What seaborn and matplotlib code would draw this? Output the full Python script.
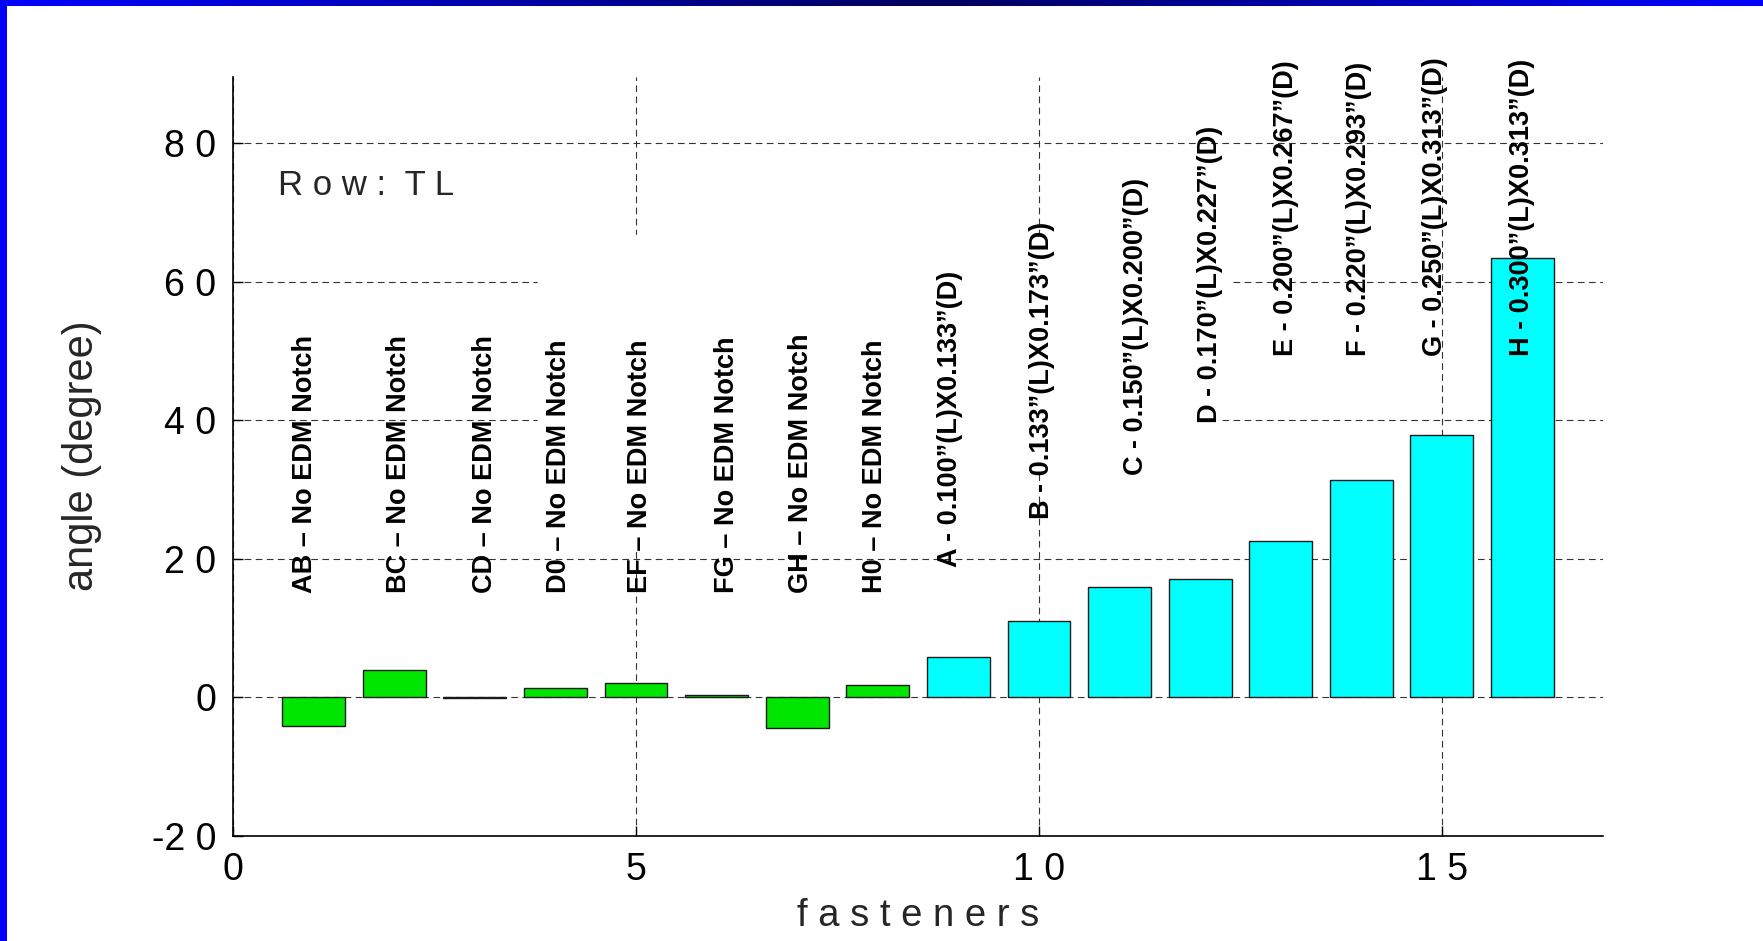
import numpy as np
import pandas as pd
import matplotlib
matplotlib.use("Agg")
import matplotlib.pyplot as plt
from matplotlib.colors import LinearSegmentedColormap
from matplotlib.patches import Polygon, Rectangle
from matplotlib.ticker import FixedLocator, FuncFormatter
import seaborn as sns

# ---- data -------------------------------------------------------------
fasteners = list(range(1, 17))
angles = [-4.15, 3.9, -0.15, 1.35, 2.0, 0.35, -4.45, 1.7,
          5.85, 11.05, 15.9, 17.1, 22.6, 31.4, 37.85, 63.4]
notch = ["none"] * 8 + ["edm"] * 8
notch_labels = [
    "AB \u2013 No EDM Notch", "BC \u2013 No EDM Notch", "CD \u2013 No EDM Notch",
    "D0 \u2013 No EDM Notch", "EF \u2013 No EDM Notch", "FG \u2013 No EDM Notch",
    "GH \u2013 No EDM Notch", "H0 \u2013 No EDM Notch",
    "A - 0.100\u201d(L)X0.133\u201d(D)", "B - 0.133\u201d(L)X0.173\u201d(D)",
    "C - 0.150\u201d(L)X0.200\u201d(D)", "D - 0.170\u201d(L)X0.227\u201d(D)",
    "E - 0.200\u201d(L)X0.267\u201d(D)", "F - 0.220\u201d(L)X0.293\u201d(D)",
    "G - 0.250\u201d(L)X0.313\u201d(D)", "H - 0.300\u201d(L)X0.313\u201d(D)",
]
row_name = "TL"
x_ticks = [0, 5, 10, 15]
y_ticks = [-20, 0, 20, 40, 60, 80]

# ---- layout -----------------------------------------------------------
label_x = [0.89, 2.06, 3.13, 4.05, 5.05, 6.13, 7.05, 7.97,
           8.90, 10.04, 11.21, 12.12, 13.07, 13.97, 14.91, 15.99]
label_base = [15.0] * 8 + [18.8, 25.8, 32.1, 39.6, 49.3, 49.3, 49.3, 49.3]
blank_area = [(3.78, 66.8), (12.44, 66.8), (12.28, 40.0),
              (10.0, 32.4), (5.0, 21.3), (3.78, 21.0)]
palette = {"none": "#00e600", "edm": "#00ffff"}

sns.set_style("ticks")
plt.rcParams["font.family"] = ["Liberation Sans", "DejaVu Sans"]


def spaced(text):
    """Letter-spaced rendering used for the axis annotations."""
    return "  ".join(" ".join(word) for word in text.split())


def spaced_number(v, pos=None):
    s = f"{v:g}"
    sign = "-" if s.startswith("-") else ""
    return sign + " ".join(s.lstrip("-"))


fig = plt.figure(figsize=(17.63, 9.41), dpi=100)
fig.patch.set_facecolor("white")

# window frame: blue strip on the left and a gradient caption band on top
fig.patches.append(Rectangle((0, 0), 6.5 / 1763, 1, transform=fig.transFigure,
                             facecolor="#0000ff", edgecolor="none", zorder=5))
band = fig.add_axes([0, 1 - 6 / 941, 1, 6 / 941])
band_cmap = LinearSegmentedColormap.from_list(
    "band", [(0, "#0000ff"), (0.53, "#00005e"), (1, "#0000ff")])
band.imshow(np.linspace(0, 1, 512)[None, :], aspect="auto", cmap=band_cmap,
            extent=(0, 1, 0, 1))
band.set_axis_off()

ax = fig.add_axes([0.1322, 0.1121, 0.7771, 0.8064])
df = pd.DataFrame({"fastener": fasteners, "angle": angles, "notch": notch})
sns.barplot(data=df, x="fastener", y="angle", hue="notch", palette=palette,
            native_scale=True, width=0.78, dodge=False, legend=False,
            saturation=1, edgecolor="#1a1a1a", linewidth=1.0, ax=ax, zorder=2)

ax.set_xlim(0, 17)
ax.set_ylim(-20, 89.65)
ax.xaxis.set_major_locator(FixedLocator(x_ticks))
ax.yaxis.set_major_locator(FixedLocator(y_ticks))
ax.xaxis.set_major_formatter(FuncFormatter(spaced_number))
ax.yaxis.set_major_formatter(FuncFormatter(spaced_number))
ax.tick_params(direction="in", length=7, width=1, pad=12, labelsize=27,
               colors="black", top=False, right=False)

ax.set_axisbelow(True)
ax.grid(True, linestyle=(0, (6, 4)), color="#333333", linewidth=0.8)
ax.add_patch(Polygon(blank_area, closed=True, facecolor="white",
                     edgecolor="none", zorder=1))

for side in ("top", "right"):
    ax.spines[side].set_visible(False)
for side in ("left", "bottom"):
    ax.spines[side].set_color("black")
    ax.spines[side].set_linewidth(1.2)

ax.set_xlabel(spaced("fasteners"), fontsize=27.5, labelpad=7)
ax.set_ylabel("angle (degree)", fontsize=30, labelpad=36)

ax.text(0.56, 72.6, spaced(f"Row: {row_name}"), fontsize=25,
        ha="left", va="baseline", zorder=3)

for x, y, txt in zip(label_x, label_base, notch_labels):
    ax.text(x, y, txt, rotation=90, ha="center", va="bottom",
            fontsize=19.5, fontweight="bold", color="black", zorder=3)

fig.savefig("out.png", dpi=100, facecolor="white")
